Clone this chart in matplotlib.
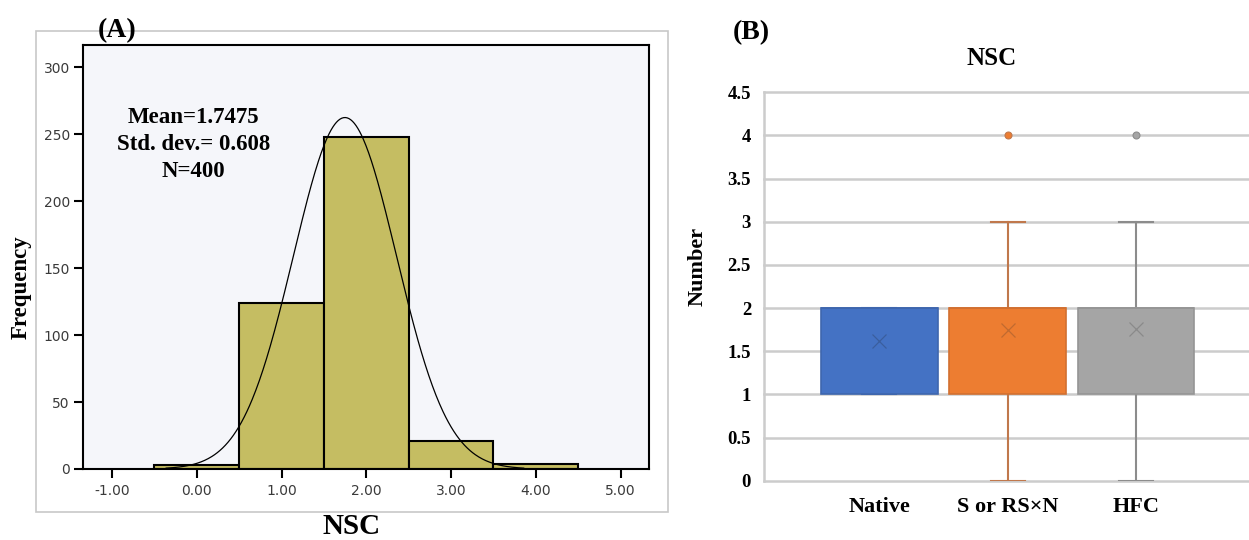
import numpy as np
import matplotlib
matplotlib.use('Agg')
import matplotlib.pyplot as plt
from matplotlib.patches import Rectangle

serif = ['Liberation Serif', 'DejaVu Serif']

# (A) histogram of NSC
bin_centers = [0, 1, 2, 3, 4]
bin_counts = [3, 124, 248, 21, 4]
mean_nsc = 1.7475
std_nsc = 0.608
n_nsc = 400
hist_xticks = [-1, 0, 1, 2, 3, 4, 5]
hist_yticks = [0, 50, 100, 150, 200, 250, 300]

# (B) box plot of NSC by group
groups = ['Native', 'S or RS×N', 'HFC']
q1 = [1, 1, 1]
medians = [2, 2, 2]
q3 = [2, 2, 2]
whisker_low = [1, 0, 0]
whisker_high = [2, 3, 3]
means = [1.62, 1.75, 1.76]
outliers = [[], [4], [4]]
box_yticks = [0, 0.5, 1, 1.5, 2, 2.5, 3, 3.5, 4, 4.5]

box_face = ['#4472C4', '#ED7D31', '#A5A5A5']
box_edge = ['#3E66AE', '#D27030', '#959595']
whisk_col = ['#3E66AE', '#C0784C', '#8C8C8C']
mean_col = ['#3A5E9E', '#C06A30', '#8A8A8A']

fig = plt.figure(figsize=(12.49, 5.4), dpi=100)

# light frame around panel A (SPSS output border)
frame = Rectangle((0.0286, 0.0524), 0.5065, 0.8907, transform=fig.transFigure,
                  fill=False, edgecolor='#C8C8C8', linewidth=1.2, zorder=0)
fig.patches.append(frame)

# ---------------- panel A ----------------
ax1 = fig.add_axes([0.0667, 0.1315, 0.4532, 0.7846])
ax1.set_facecolor('#F5F6FA')
ax1.bar(bin_centers, bin_counts, width=1.0, color='#C5BD62',
        edgecolor='black', linewidth=1.5, zorder=2)

# fitted normal curve
xs = np.linspace(mean_nsc - 3.47 * std_nsc, mean_nsc + 3.47 * std_nsc, 400)
ys = n_nsc * np.exp(-0.5 * ((xs - mean_nsc) / std_nsc) ** 2) / (std_nsc * np.sqrt(2 * np.pi))
ax1.plot(xs, ys, color='black', linewidth=0.9, zorder=3)

ax1.text(-0.04, 242.3, f"Mean={mean_nsc}\nStd. dev.= {std_nsc}\nN={n_nsc}",
         ha='center', va='center', fontsize=16.5, fontweight='bold',
         family=serif, linespacing=1.4)

ax1.set_xlim(-1.34, 5.34)
ax1.set_ylim(0, 316.4)
ax1.set_xticks(hist_xticks)
ax1.set_xticklabels([f'{t:.2f}' for t in hist_xticks])
ax1.set_yticks(hist_yticks)
ax1.tick_params(direction='out', length=6.7, width=1.5, labelsize=10,
                labelcolor='#3A3A3A')
ax1.tick_params(axis='x', pad=4)
ax1.tick_params(axis='y', pad=3)
for sp in ax1.spines.values():
    sp.set_linewidth(1.5)
    sp.set_color('black')

fig.text(0.0168, 0.4685, 'Frequency', rotation=90, ha='center', va='center',
         fontsize=16.5, fontweight='bold', family=serif)
fig.text(0.2818, 0.0241, 'NSC', ha='center', va='center',
         fontsize=21, fontweight='bold', family=serif)
fig.text(0.0934, 0.944, '(A)', ha='center', va='center',
         fontsize=20, fontweight='bold', family=serif)

# ---------------- panel B ----------------
ax2 = fig.add_axes([0.6119, 0.1098, 0.3881, 0.7193])
stats = []
for i, g in enumerate(groups):
    stats.append(dict(label=g, q1=q1[i], med=medians[i], q3=q3[i],
                      whislo=whisker_low[i], whishi=whisker_high[i],
                      mean=means[i], fliers=outliers[i]))

positions = [1, 2, 3]
res = ax2.bxp(stats, positions=positions, widths=0.911, capwidths=0.265,
              patch_artist=True, showmeans=True, zorder=3)

for i in range(len(groups)):
    res['boxes'][i].set_facecolor(box_face[i])
    res['boxes'][i].set_edgecolor(box_edge[i])
    res['boxes'][i].set_linewidth(1.2)
    res['medians'][i].set_color(box_edge[i])
    res['medians'][i].set_linewidth(1.2)
    for ln in res['whiskers'][2 * i:2 * i + 2] + res['caps'][2 * i:2 * i + 2]:
        ln.set_color(whisk_col[i])
        ln.set_linewidth(1.5)
        ln.set_zorder(2.5)
    m = res['means'][i]
    m.set_marker('x')
    m.set_markersize(10)
    m.set_markeredgewidth(0.9)
    m.set_markeredgecolor(mean_col[i])
    m.set_markerfacecolor(mean_col[i])
    f = res['fliers'][i]
    f.set_marker('o')
    f.set_markersize(5)
    f.set_markerfacecolor(box_face[i])
    f.set_markeredgecolor(whisk_col[i])
    f.set_markeredgewidth(0.8)

ax2.set_xlim(0.105, 3.88)
ax2.set_ylim(0, 4.5)
ax2.set_yticks(box_yticks)
ax2.set_yticklabels([f'{v:g}' for v in box_yticks])
ax2.set_xticks(positions)
ax2.set_xticklabels(groups)
ax2.yaxis.grid(True, color='#CCCCCC', linewidth=1.8)
for gl in ax2.get_ygridlines():
    gl.set_clip_on(False)
ax2.set_axisbelow(True)
ax2.tick_params(length=0)
ax2.tick_params(axis='y', pad=9.5)
ax2.tick_params(axis='x', pad=12)
for lbl in ax2.get_yticklabels():
    lbl.set_family(serif)
    lbl.set_fontweight('bold')
    lbl.set_fontsize(13.5)
for lbl in ax2.get_xticklabels():
    lbl.set_family(serif)
    lbl.set_fontweight('bold')
    lbl.set_fontsize(16)
for side in ['top', 'right', 'bottom']:
    ax2.spines[side].set_visible(False)
ax2.spines['left'].set_color('#CCCCCC')
ax2.spines['left'].set_linewidth(1.8)

fig.text(0.5588, 0.5074, 'Number', rotation=90, ha='center', va='center',
         fontsize=16, fontweight='bold', family=serif)
fig.text(0.7941, 0.8917, 'NSC', ha='center', va='center',
         fontsize=18, fontweight='bold', family=serif)
fig.text(0.6013, 0.9394, '(B)', ha='center', va='center',
         fontsize=20, fontweight='bold', family=serif)

fig.savefig('out.png', dpi=100)
